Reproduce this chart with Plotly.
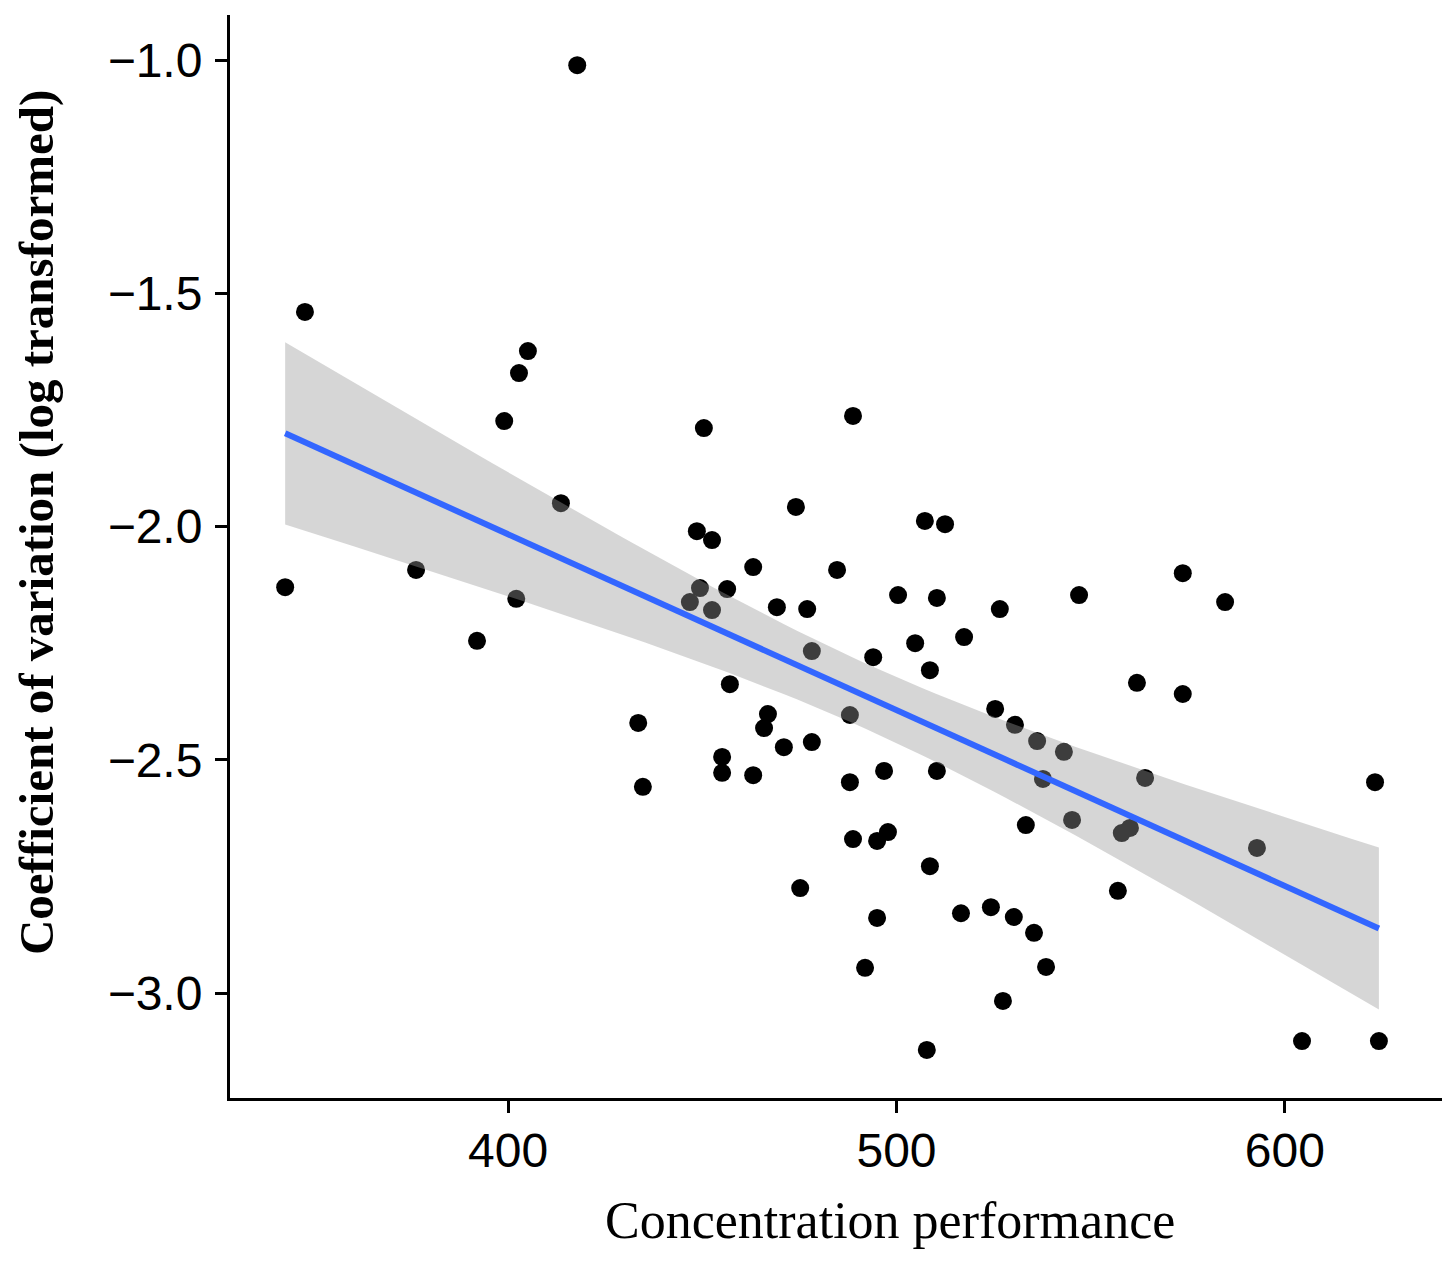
import numpy as np
import plotly.graph_objects as go

# concentration performance (x) and log CV (y)
perf = [417.8, 347.7, 342.6, 405.1, 402.8, 399.0, 413.6, 376.3, 402.1, 392.0,
        433.5, 434.7, 450.4, 488.8, 474.1, 448.6, 452.5, 463.1, 484.7, 507.3,
        512.5, 449.4, 456.4, 446.8, 452.5, 469.2, 477.0, 500.4, 510.4, 526.6,
        478.2, 494.0, 504.8, 517.4, 508.6, 457.1, 466.9, 465.9, 455.1, 455.1,
        463.1, 471.0, 478.2, 488.0, 488.0, 496.8, 510.4, 488.8, 495.0, 497.8,
        508.6, 475.2, 495.0, 491.9, 507.8, 547.0, 573.7, 584.6, 561.9, 573.7,
        525.4, 530.5, 536.2, 543.1, 537.7, 564.0, 545.2, 533.3, 558.0, 560.1,
        592.8, 623.2, 557.0, 516.6, 524.3, 530.2, 535.4, 538.5, 527.4, 604.4,
        624.2]
log_cv = [-1.011, -1.540, -2.130, -1.624, -1.671, -1.774, -1.950, -2.093, -2.155, -2.245,
          -2.421, -2.558, -1.789, -1.763, -1.958, -2.010, -2.029, -2.087, -2.093, -1.988,
          -1.995, -2.132, -2.134, -2.162, -2.179, -2.173, -2.177, -2.147, -2.153, -2.177,
          -2.267, -2.280, -2.250, -2.237, -2.308, -2.338, -2.402, -2.432, -2.494, -2.528,
          -2.533, -2.473, -2.462, -2.404, -2.548, -2.524, -2.524, -2.670, -2.674, -2.655,
          -2.728, -2.775, -2.839, -2.946, -3.122, -2.147, -2.100, -2.162, -2.335, -2.359,
          -2.391, -2.425, -2.460, -2.483, -2.541, -2.539, -2.629, -2.640, -2.657, -2.646,
          -2.689, -2.548, -2.781, -2.829, -2.816, -2.837, -2.871, -2.944, -3.017, -3.103,
          -3.103]

x_ticks = [400, 500, 600]
y_ticks = [-3.0, -2.5, -2.0, -1.5, -1.0]

# linear fit + 95% CI, like geom_smooth(method = "lm")
x = np.array(perf)
y = np.array(log_cv)
n = len(x)
b1, b0 = np.polyfit(x, y, 1)
resid = y - (b0 + b1 * x)
s = np.sqrt(np.sum(resid ** 2) / (n - 2))
sxx = np.sum((x - x.mean()) ** 2)
t_crit = 1.990  # t(0.975, df = 79)
grid = np.linspace(x.min(), x.max(), 80)
fit = b0 + b1 * grid
se = s * np.sqrt(1 / n + (grid - x.mean()) ** 2 / sxx)
upper = fit + t_crit * se
lower = fit - t_crit * se

fig = go.Figure()
fig.add_trace(go.Scatter(
    x=perf, y=log_cv, mode="markers",
    marker=dict(color="black", size=18, line=dict(width=0)),
    hoverinfo="x+y",
))
# ribbon sits on top of the points, so points inside it look grey
fig.add_trace(go.Scatter(
    x=np.concatenate([grid, grid[::-1]]),
    y=np.concatenate([upper, lower[::-1]]),
    fill="toself", fillcolor="rgba(153,153,153,0.4)",
    line=dict(width=0), mode="lines", hoverinfo="skip",
))
fig.add_trace(go.Scatter(
    x=grid, y=fit, mode="lines",
    line=dict(color="#3366FF", width=6), hoverinfo="skip",
))

axis_style = dict(
    showgrid=False, zeroline=False,
    showline=True, linecolor="black", linewidth=3,
    ticks="outside", ticklen=12, tickwidth=2.5, tickcolor="black",
    tickfont=dict(family="Liberation Sans, Arial, sans-serif", size=48, color="black"),
)
fig.update_xaxes(range=[328.4, 640.7], tickvals=x_ticks, ticklabelstandoff=-4, **axis_style)
fig.update_yaxes(range=[-3.225, -0.9035], tickvals=y_ticks, tickformat=".1f",
                 ticklabelstandoff=3, **axis_style)

serif = "Liberation Serif, Times New Roman, serif"
fig.add_annotation(text="Concentration performance", xref="paper", yref="paper",
                   x=0.544, y=-0.1127, xanchor="center", yanchor="middle",
                   showarrow=False, font=dict(family=serif, size=52, color="black"))
fig.add_annotation(text="<b>Coefficient of variation (log transformed)</b>",
                   xref="paper", yref="paper",
                   x=-0.159, y=0.531, xanchor="center", yanchor="middle", textangle=-90,
                   showarrow=False, font=dict(family=serif, size=49, color="black"))

# page body has an 8px margin, so the figure is 8px smaller than the window
fig.update_layout(
    width=1442, height=1253,
    margin=dict(l=222, r=7, t=7, b=163),
    plot_bgcolor="white", paper_bgcolor="white",
    showlegend=False,
)

fig.write_html("out.html")
